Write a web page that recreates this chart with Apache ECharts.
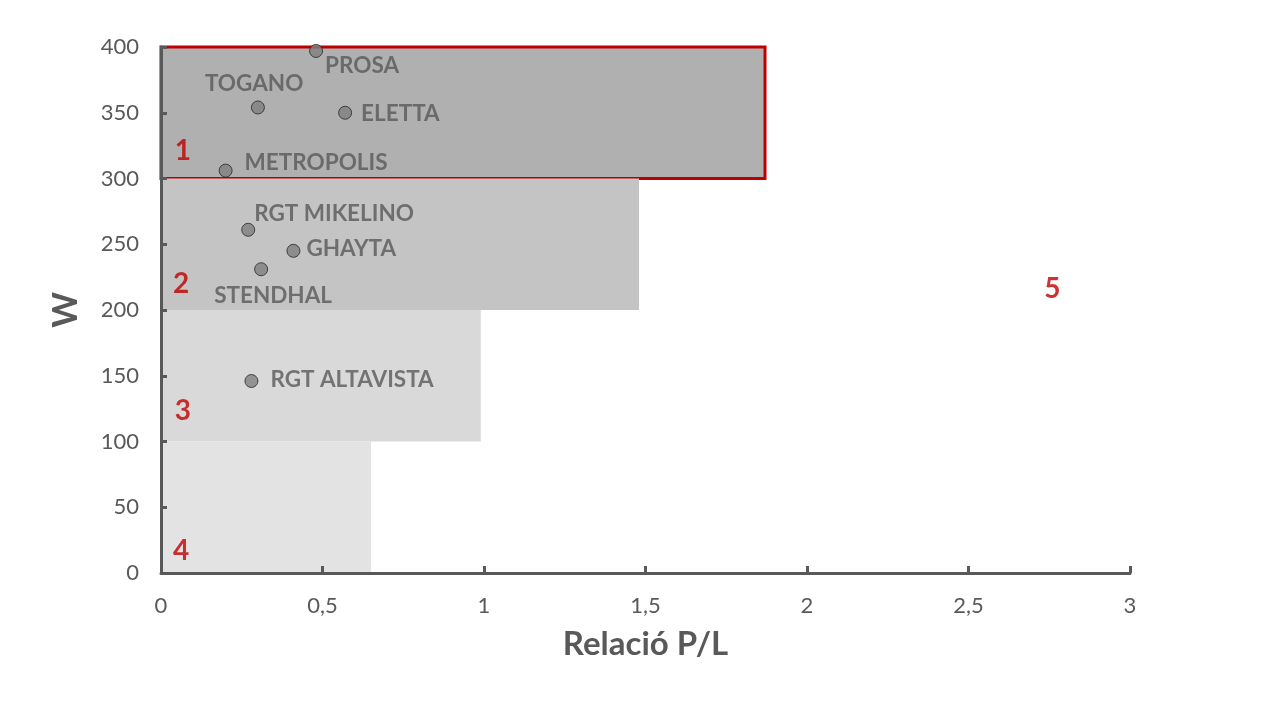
<!DOCTYPE html>
<html>
<head>
<meta charset="utf-8">
<script src="https://cdn.jsdelivr.net/npm/echarts@6/dist/echarts.min.js"></script>
<style>
  html, body { margin: 0; padding: 0; background: #fff; }
  #chart { width: 1280px; height: 720px; }
</style>
</head>
<body>
<div id="chart"></div>
<script>
// Punts: relació P/L i W
var names = ["PROSA", "TOGANO", "ELETTA", "METROPOLIS", "RGT MIKELINO", "GHAYTA", "STENDHAL", "RGT ALTAVISTA"];
var ratioPL = [0.48, 0.30, 0.57, 0.20, 0.27, 0.41, 0.31, 0.28];
var power = [397, 354, 350, 306, 261, 245, 231, 146];

// Zones (rectangles)
var zoneNames = ["1", "2", "3", "4"];
var zoneXMax = [1.87, 1.48, 0.99, 0.65];
var zoneYMin = [300, 200, 100, 0];
var zoneYMax = [400, 300, 200, 100];

// Etiquetes de zona
var zoneLabels = ["1", "2", "3", "4", "5"];
var zoneLabelX = [0.068, 0.062, 0.068, 0.062, 2.76];
var zoneLabelY = [321, 220, 123, 17, 216];

var textColor = "#595959";
var red = "#c00000";
var zoneColors = ["#b0b0b0", "#c4c4c4", "#d9d9d9", "#e3e3e3"];

// label offsets per punt (px)
var labelOffsets = {
  "PROSA": [-3, 15],
  "TOGANO": [-65, -24],
  "ELETTA": [4, 1],
  "METROPOLIS": [7, -8],
  "RGT MIKELINO": [-6, -16],
  "GHAYTA": [1, -2],
  "STENDHAL": [-59, 27],
  "RGT ALTAVISTA": [7, -1]
};

var myChart = echarts.init(document.getElementById("chart"));

var areas = zoneNames.map(function (z, i) {
  return [
    {
      coord: [0, zoneYMin[i]],
      itemStyle: {
        color: zoneColors[i],
        borderColor: i == 0 ? red : "transparent",
        borderWidth: i == 0 ? 3 : 0
      }
    },
    { coord: [zoneXMax[i], zoneYMax[i]] }
  ];
});

var points = names.map(function (n, i) {
  return {
    name: n,
    value: [ratioPL[i], power[i]],
    label: { offset: labelOffsets[n] }
  };
});

var zoneLabelData = zoneLabels.map(function (z, i) {
  return { name: z, value: [zoneLabelX[i], zoneLabelY[i]] };
});

var option = {
  animation: false,
  textStyle: { fontFamily: "Lato" },
  grid: { left: 161, top: 47, right: 150, bottom: 147 },
  xAxis: {
    type: "value",
    z: 10,
    min: 0,
    max: 3,
    interval: 0.5,
    name: "Relació P/L",
    nameLocation: "middle",
    nameGap: 55,
    nameTextStyle: { color: textColor, fontSize: 33, fontWeight: "bold" },
    axisLine: { show: true, onZero: false, lineStyle: { color: textColor, width: 3 } },
    axisTick: { show: true, inside: true, length: 7, lineStyle: { color: textColor, width: 3 } },
    axisLabel: {
      color: textColor,
      fontSize: 22,
      margin: 22,
      formatter: function (v) { return String(v).replace(".", ","); }
    },
    splitLine: { show: false }
  },
  yAxis: {
    type: "value",
    z: 10,
    min: 0,
    max: 400,
    interval: 50,
    name: "W",
    nameLocation: "middle",
    nameGap: 78,
    nameTextStyle: { color: textColor, fontSize: 34, fontWeight: "bold" },
    axisLine: { show: true, onZero: false, lineStyle: { color: textColor, width: 3 } },
    axisTick: { show: true, inside: true, length: 6, lineStyle: { color: textColor, width: 3 } },
    axisLabel: { color: textColor, fontSize: 22, margin: 22 },
    splitLine: { show: false }
  },
  series: [
    {
      type: "scatter",
      data: [],
      markArea: { silent: true, data: areas }
    },
    {
      type: "scatter",
      symbolSize: 0,
      data: zoneLabelData,
      label: {
        show: true,
        position: "inside",
        formatter: "{b}",
        color: red,
        fontSize: 28,
        fontWeight: "bold"
      }
    },
    {
      type: "scatter",
      symbol: "circle",
      symbolSize: 13,
      z: 5,
      itemStyle: { color: "#808080", borderColor: "#262626", borderWidth: 1 },
      data: points,
      label: {
        show: true,
        position: "right",
        formatter: "{b}",
        color: textColor,
        fontSize: 22.5,
        fontWeight: "bold"
      }
    }
  ]
};

myChart.setOption(option);
</script>
</body>
</html>
